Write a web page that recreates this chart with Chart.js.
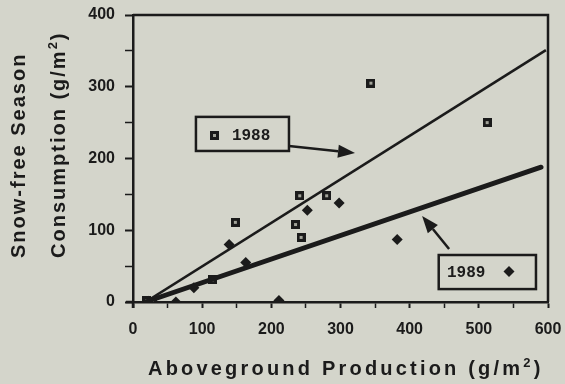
<!DOCTYPE html>
<html>
<head>
<meta charset="utf-8">
<script src="https://cdn.jsdelivr.net/npm/chart.js@4.4.0/dist/chart.umd.min.js"></script>
<style>
  html, body { margin: 0; padding: 0; background: #d4d5cb; }
  #wrap { width: 565px; height: 384px; }
</style>
</head>
<body>
<div id="wrap"><canvas id="chart"></canvas></div>
<script>
// Aboveground production vs. snow-free season consumption, two seasons
const prod1988 = [20, 28, 115, 148, 235, 241, 243, 280, 344, 512];
const cons1988 = [2, 0, 31, 111, 108, 148, 90, 148, 305, 250];
const prod1989 = [22, 62, 88, 139, 163, 211, 252, 298, 382];
const cons1989 = [1, 0, 20, 80, 55, 2, 128, 138, 87];

// fitted lines (endpoints)
const fit1988X = [18, 597];
const fit1988Y = [0, 351];
const fit1989X = [18, 590];
const fit1989Y = [0, 188];

const xTicks = [0, 100, 200, 300, 400, 500, 600];
const yTicks = [0, 100, 200, 300, 400];

const INK = '#1b1b1b';
const PAPER = '#d4d5cb';

// labelled boxes with arrows, in data units
const notes = [
    { label: '1988', marker: 'square',  box: [91, 258, 225.5, 210.5], text: [143, 232.7], mark: [118.5, 232.7], arrow: [225.5, 217.4, 321, 207.7] },
    { label: '1989', marker: 'diamond', box: [442, 65.5, 582.6, 18],  text: [454, 41.8],  mark: [543.6, 42.5],  arrow: [457, 73.9, 418, 120] },
];

const zip = (xs, ys) => xs.map((x, i) => ({ x, y: ys[i] }));

function squareMark() {
    const c = document.createElement('canvas');
    c.width = 9; c.height = 9;
    const g = c.getContext('2d');
    g.fillStyle = INK;
    g.fillRect(0, 0, 9, 9);
    g.fillStyle = '#a3a49a';
    g.fillRect(3, 3, 3, 3);
    return c;
}
const sq = squareMark();

// draws text pieces, some as superscript, starting at x
function drawParts(ctx, parts, x, y) {
    for (const [t, sup] of parts) {
        ctx.font = sup ? 'bold 13px "Liberation Sans", Arial' : 'bold 20px "Liberation Sans", Arial';
        ctx.fillText(t, x, sup ? y - 8 : y);
        x += ctx.measureText(t).width;
    }
}

function arrow(ctx, x1, y1, x2, y2) {
    const a = Math.atan2(y2 - y1, x2 - x1);
    const len = 17, half = 6.5;
    const bx = x2 - len * Math.cos(a), by = y2 - len * Math.sin(a);
    ctx.lineWidth = 2.5;
    ctx.beginPath();
    ctx.moveTo(x1, y1);
    ctx.lineTo(bx, by);
    ctx.stroke();
    ctx.beginPath();
    ctx.moveTo(x2, y2);
    ctx.lineTo(bx + half * Math.sin(a), by - half * Math.cos(a));
    ctx.lineTo(bx - half * Math.sin(a), by + half * Math.cos(a));
    ctx.closePath();
    ctx.fill();
}

const decorations = {
    id: 'decorations',
    afterDraw(chart) {
        const { ctx, chartArea: a, scales: { x, y } } = chart;
        ctx.save();
        ctx.strokeStyle = INK;
        ctx.fillStyle = INK;

        // top and right frame, axes run a little past the corner
        ctx.lineWidth = 2.5;
        ctx.beginPath();
        ctx.moveTo(a.left, a.top);
        ctx.lineTo(a.right, a.top);
        ctx.lineTo(a.right, a.bottom);
        ctx.moveTo(a.left - 7, a.bottom);
        ctx.lineTo(a.left, a.bottom);
        ctx.moveTo(a.left, a.bottom);
        ctx.lineTo(a.left, a.bottom + 6);
        ctx.stroke();

        // axis titles
        ctx.textBaseline = 'alphabetic';
        ctx.textAlign = 'left';
        ctx.letterSpacing = '3.2px';
        drawParts(ctx, [['Aboveground Production (g/m', false], ['2', true], [')', false]], 148, 375);

        ctx.letterSpacing = '2px';
        ctx.save();
        ctx.translate(25, 258);
        ctx.rotate(-Math.PI / 2);
        drawParts(ctx, [['Snow-free Season', false]], 0, 0);
        ctx.restore();
        ctx.save();
        ctx.translate(65, 258);
        ctx.rotate(-Math.PI / 2);
        drawParts(ctx, [['Consumption (g/m', false], ['2', true], [')', false]], 0, 0);
        ctx.restore();
        ctx.letterSpacing = '0px';

        // boxed labels and arrows
        for (const n of notes) {
            const [bx1, by1, bx2, by2] = n.box;
            const l = x.getPixelForValue(bx1), t = y.getPixelForValue(by1);
            const r = x.getPixelForValue(bx2), b = y.getPixelForValue(by2);
            ctx.fillStyle = PAPER;
            ctx.fillRect(l, t, r - l, b - t);
            ctx.fillStyle = INK;
            ctx.lineWidth = 2.5;
            ctx.strokeRect(l, t, r - l, b - t);

            ctx.font = 'bold 16px "Liberation Mono", "DejaVu Sans Mono", monospace';
            ctx.textBaseline = 'middle';
            ctx.fillText(n.label, x.getPixelForValue(n.text[0]), y.getPixelForValue(n.text[1]) + 1);

            const mx = x.getPixelForValue(n.mark[0]), my = y.getPixelForValue(n.mark[1]);
            if (n.marker === 'square') {
                ctx.drawImage(sq, Math.round(mx - 4.5), Math.round(my - 4.5));
            } else {
                ctx.beginPath();
                ctx.moveTo(mx, my - 5.5);
                ctx.lineTo(mx + 5.5, my);
                ctx.lineTo(mx, my + 5.5);
                ctx.lineTo(mx - 5.5, my);
                ctx.closePath();
                ctx.fill();
            }

            const [ax1, ay1, ax2, ay2] = n.arrow;
            arrow(ctx, x.getPixelForValue(ax1), y.getPixelForValue(ay1),
                       x.getPixelForValue(ax2), y.getPixelForValue(ay2));
        }
        ctx.restore();
    },
};

const tickFont = { family: '"Liberation Sans", Arial', size: 16, weight: 'bold' };

new Chart(document.getElementById('chart'), {
    type: 'scatter',
    data: {
        datasets: [
            {
                type: 'line', label: 'fit 1988', data: zip(fit1988X, fit1988Y),
                borderColor: INK, borderWidth: 2.6, pointRadius: 0, fill: false,
            },
            {
                type: 'line', label: 'fit 1989', data: zip(fit1989X, fit1989Y),
                borderColor: INK, borderWidth: 4.8, pointRadius: 0, fill: false, borderCapStyle: 'round',
            },
            {
                label: '1988', data: zip(prod1988, cons1988),
                pointStyle: sq, pointRadius: 5,
            },
            {
                label: '1989', data: zip(prod1989, cons1989),
                pointStyle: 'rectRot', pointRadius: 5.5,
                backgroundColor: INK, borderColor: INK, borderWidth: 0,
            },
        ],
    },
    options: {
        responsive: true,
        maintainAspectRatio: false,
        animation: false,
        events: [],
        layout: { padding: { top: 15, right: 17, left: 0, bottom: 0 } },
        plugins: { legend: { display: false }, tooltip: { enabled: false } },
        scales: {
            x: {
                type: 'linear', min: 0, max: 600,
                afterFit: s => { s.height = 82; s.paddingLeft = 0; s.paddingRight = 0; },
                border: { display: true, color: INK, width: 2.5 },
                grid: {
                    drawOnChartArea: false, drawTicks: true, tickLength: 6,
                    tickColor: INK, tickWidth: c => (xTicks.includes(c.tick.value) ? 2 : 1.5),
                },
                ticks: {
                    stepSize: 50, autoSkip: false, maxRotation: 0, padding: 12,
                    color: INK, font: tickFont,
                    callback: v => (xTicks.includes(v) ? v : ''),
                },
            },
            y: {
                type: 'linear', min: 0, max: 400,
                afterFit: s => { s.width = 133; s.paddingTop = 0; s.paddingBottom = 0; },
                border: { display: true, color: INK, width: 2.5 },
                grid: {
                    drawOnChartArea: false, drawTicks: true, tickLength: 8,
                    tickColor: INK, tickWidth: c => (yTicks.includes(c.tick.value) ? 2 : 1.5),
                },
                ticks: {
                    stepSize: 50, autoSkip: false, padding: 10,
                    color: INK, font: tickFont,
                    callback: v => (yTicks.includes(v) ? v : ''),
                },
            },
        },
    },
    plugins: [decorations],
});
</script>
</body>
</html>
